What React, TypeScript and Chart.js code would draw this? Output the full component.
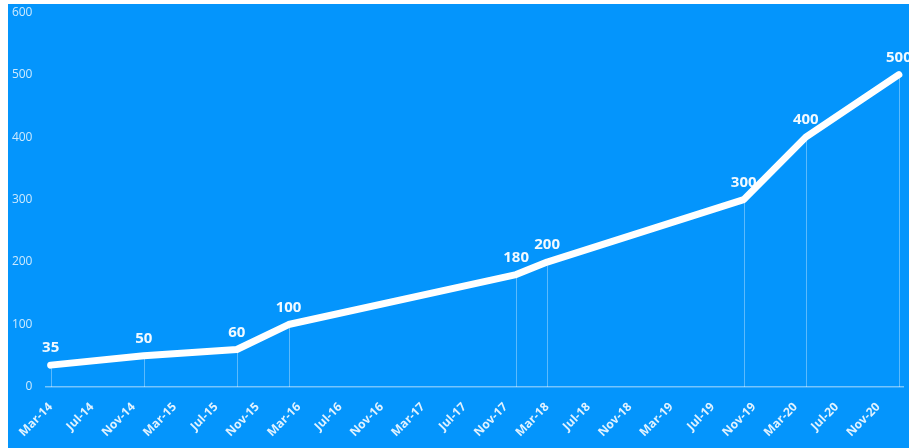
import React, { useEffect, useRef } from "react";
import { Chart, registerables } from "chart.js";

Chart.register(...registerables);

const tickLabels = [
  "Mar-14", "Jul-14", "Nov-14", "Mar-15", "Jul-15", "Nov-15", "Mar-16",
  "Jul-16", "Nov-16", "Mar-17", "Jul-17", "Nov-17", "Mar-18", "Jul-18",
  "Nov-18", "Mar-19", "Jul-19", "Nov-19", "Mar-20", "Jul-20", "Nov-20",
];
const tickMonths = [0, 4, 8, 12, 16, 20, 24, 28, 32, 36, 40, 44, 48, 52, 56, 60, 64, 68, 72, 76, 80];
const pointMonths = [0, 9, 18, 23, 45, 48, 67, 73, 82];
const values = [35, 50, 60, 100, 180, 200, 300, 400, 500];

const BG = "rgb(4,149,252)";

const dropLinesPlugin = {
  id: "dropLines",
  beforeDatasetsDraw(chart: any) {
    const { ctx } = chart;
    const xs = chart.scales.x;
    const ys = chart.scales.y;
    ctx.save();
    ctx.strokeStyle = "rgba(255,255,255,0.35)";
    ctx.lineWidth = 1;
    pointMonths.forEach((m, i) => {
      const px = Math.round(xs.getPixelForValue(m)) + 0.5;
      ctx.beginPath();
      ctx.moveTo(px, ys.getPixelForValue(values[i]));
      ctx.lineTo(px, ys.getPixelForValue(0));
      ctx.stroke();
    });
    ctx.restore();
  },
};

const dataLabelsPlugin = {
  id: "dataLabels",
  afterDatasetsDraw(chart: any) {
    const { ctx } = chart;
    const xs = chart.scales.x;
    const ys = chart.scales.y;
    ctx.save();
    ctx.fillStyle = "rgba(255,255,255,0.95)";
    ctx.font = "bold 15px 'Open Sans'";
    ctx.textAlign = "center";
    ctx.textBaseline = "middle";
    pointMonths.forEach((m, i) => {
      ctx.fillText(String(values[i]), xs.getPixelForValue(m), ys.getPixelForValue(values[i]) - 17);
    });
    ctx.restore();
  },
};

export default function App() {
  const ref = useRef<HTMLCanvasElement | null>(null);

  useEffect(() => {
    if (!ref.current) return;
    const chart = new Chart(ref.current, {
      type: "line",
      data: {
        datasets: [
          {
            data: pointMonths.map((m, i) => ({ x: m, y: values[i] })),
            borderColor: "#ffffff",
            backgroundColor: "#ffffff",
            borderWidth: 7,
            borderCapStyle: "round",
            borderJoinStyle: "round",
            pointRadius: 0,
            tension: 0,
          },
        ],
      },
      options: {
        animation: false,
        responsive: true,
        maintainAspectRatio: false,
        layout: { padding: { left: 0, right: 6, top: 0, bottom: 0 } },
        plugins: { legend: { display: false }, tooltip: { enabled: false } },
        scales: {
          x: {
            type: "linear",
            min: -0.5,
            max: 82.4,
            grid: { display: false, drawTicks: false },
            border: { display: true, color: "rgba(255,255,255,0.45)", width: 1.5 },
            afterBuildTicks: (scale: any) => {
              scale.ticks = tickMonths.map((v) => ({ value: v }));
            },
            afterFit: (scale: any) => {
              scale.height = 61;
            },
            ticks: {
              autoSkip: false,
              maxRotation: 45,
              minRotation: 45,
              padding: 13,
              color: "rgba(255,255,255,0.88)",
              font: { family: "'Open Sans'", size: 12, weight: "bold" },
              callback: (value: any) => {
                const idx = tickMonths.indexOf(Number(value));
                return idx >= 0 ? tickLabels[idx] : "";
              },
            },
          },
          y: {
            min: 0,
            max: 600,
            grid: { display: false, drawTicks: false },
            border: { display: false },
            afterFit: (scale: any) => {
              scale.width = 37;
            },
            ticks: {
              stepSize: 100,
              padding: 13,
              color: "rgba(255,255,255,0.8)",
              font: { family: "'Open Sans'", size: 12 },
            },
          },
        },
      },
      plugins: [dropLinesPlugin, dataLabelsPlugin],
    } as any);
    return () => chart.destroy();
  }, []);

  return (
    <div
      style={{
        position: "absolute",
        left: 8,
        top: 4,
        width: 901,
        height: 444,
        background: BG,
        overflow: "hidden",
      }}
    >
      <div style={{ position: "absolute", left: 0, top: -12, width: 901, height: 456 }}>
        <canvas ref={ref} />
      </div>
    </div>
  );
}
